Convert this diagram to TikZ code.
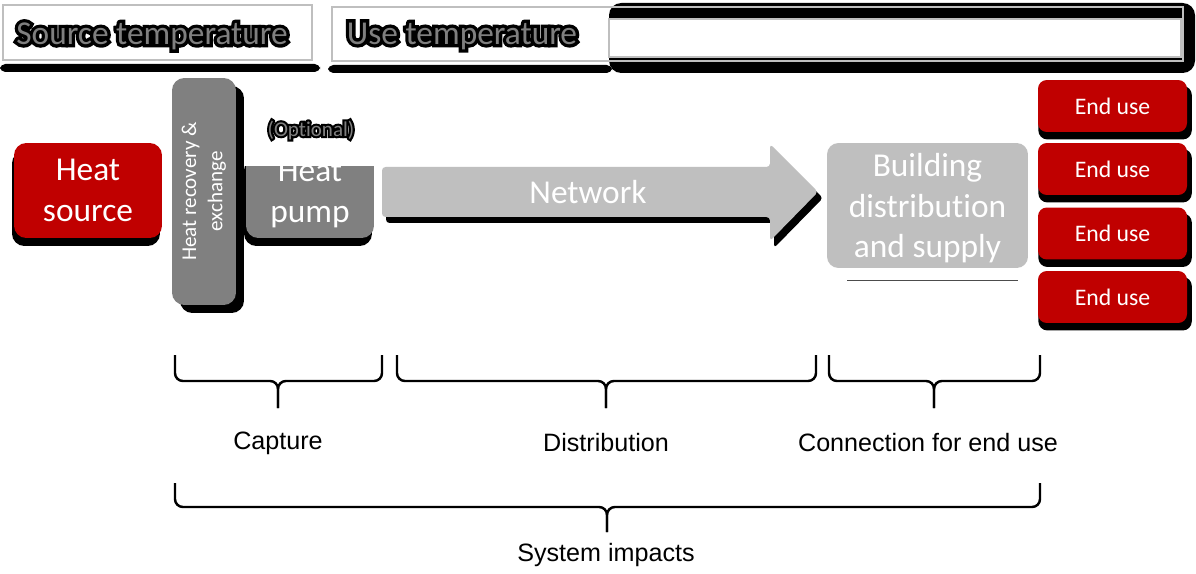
\documentclass[tikz,border=0pt]{standalone}
\usepackage{fontspec}
\setmainfont[Ligatures=NoCommon]{Carlito}
\newfontfamily\glowfont[FakeBold=20]{Carlito}
\newfontfamily\labelfont{Liberation Sans}
\usepackage{graphicx}
\usetikzlibrary{shadows}

\definecolor{boxred}{HTML}{C00000}
\definecolor{boxgray}{HTML}{808080}
\definecolor{boxlight}{HTML}{BFBFBF}
\definecolor{glowtext}{HTML}{7F7F7F}

\begin{document}
\begin{tikzpicture}[x=0.02cm, y=-0.02cm, every node/.style={rectangle, rounded corners=7pt, text=white, inner sep=0pt},
		bigtext/.style={font=\fontsize{19}{23.2}\selectfont, align=center},
		glow/.style={text=black, font=\glowfont\fontsize{#1}{#1}\selectfont},
		toptext/.style={text=glowtext, font=\fontsize{#1}{#1}\selectfont},
		shade/.style={drop shadow={shadow xshift=#1, shadow yshift=-0.16cm, fill=black, opacity=1}},
		enduse/.style={fill=boxred, minimum width=2.98cm, minimum height=1.04cm, rounded corners=5pt, font=\fontsize{13.5}{16}\selectfont, drop shadow={shadow xshift=0.05cm, shadow yshift=-0.13cm, shadow scale=1.03, fill=black, opacity=1}},
		tempbox/.style={draw=boxlight, line width=1.1pt},
		brace/.style={line width=1.4pt, rounded corners=4.5pt},
		caption/.style={text=black, font=\labelfont\fontsize{14.3}{17}\selectfont}]
				\useasboundingbox (0,0) rectangle (1196,574);
				\fill[white] (0,0) rectangle (1196,574);
				
				% temperature bars
				\fill[black, rounded corners=3pt] (0,64) rectangle (320,72);
				\fill[black, rounded corners=3pt] (328,65) rectangle (612,73);
				\fill[black, rounded corners=7pt] (609,3) rectangle (1195,73);
				\draw[tempbox] (3,5) rectangle (312,60);
				\draw[tempbox] (332,7) rectangle (1183,61);
				\filldraw[fill=white, draw=boxlight, line width=0.6pt] (609,19) rectangle (1181,57);
				\node[glow=19] (srcglow) at (152,36) {Source temperature};
				\node[toptext=19] (srctemp) at (152,36) {Source temperature};
				\node[glow=19] (useglow) at (462,36) {Use temperature};
				\node[toptext=19] (usetemp) at (462,36) {Use temperature};
				
				% capture
				\node[fill=boxred, minimum width=2.96cm, minimum height=1.9cm, bigtext, shade=-0.04cm] (source) at (88,190.5) {Heat\\source};
				\node[fill=boxgray, minimum width=1.28cm, minimum height=4.54cm, shade=0.16cm] (recovery) at (204,191.5)
					{\rotatebox{90}{\fontsize{12}{15}\selectfont\begin{tabular}{@{}c@{}}Heat recovery \&\\exchange\end{tabular}}};
				\begin{scope}
					\clip (240,167) rectangle (390,260);
					\node[fill=boxgray, minimum width=2.56cm, minimum height=1.76cm, bigtext, shade=-0.04cm] (pump) at (310,194) {Heat\\pump};
				\end{scope}
				\node[glow=12] (optglow) at (311,130) {(Optional)};
				\node[toptext=12] (optional) at (311,130) {(Optional)};
				
				% network
				\fill[black, rounded corners=2pt] (386,173) -- (774,173) -- (774,150) -- (823,198) -- (774,248) -- (774,223) -- (386,223) -- cycle;
				\fill[boxlight, rounded corners=2pt] (382,167) -- (770,167) -- (770,144) -- (818,192) -- (770,241) -- (770,217) -- (382,217) -- cycle;
				\node[bigtext] (network) at (588,192) {Network};
				
				% connection
				\node[fill=boxlight, minimum width=4.02cm, minimum height=2.5cm, rounded corners=6.5pt, bigtext, text depth=0pt] (building) at (927.5,205.5) {Building\\distribution\\and supply};
				\draw[black!70, line width=0.5pt] (847,280) -- (1018,280);
				\node[enduse] (use1) at (1112.5,106) {End use};
				\node[enduse] (use2) at (1112.5,169) {End use};
				\node[enduse] (use3) at (1112.5,233.5) {End use};
				\node[enduse] (use4) at (1112.5,297) {End use};
				
				% braces
				\draw[brace] (175,355) |- (278,381) -- (278,408);
				\draw[brace] (382,355) |- (278,381) -- (278,408);
				\draw[brace] (397,355) |- (606,381) -- (606,408);
				\draw[brace] (816,355) |- (606,381) -- (606,408);
				\draw[brace] (829,355) |- (934,381) -- (934,408);
				\draw[brace] (1040,355) |- (934,381) -- (934,408);
				\draw[brace] (175,483) |- (607,507) -- (607,532);
				\draw[brace] (1040,483) |- (607,507) -- (607,532);
				
				\node[caption] (capture) at (278,443) {Capture};
				\node[caption] (distribution) at (606,443) {Distribution};
				\node[caption] (connection) at (928,443) {Connection for end use};
				\node[caption] (impacts) at (606,555) {System impacts};
			\end{tikzpicture}
\end{document}
